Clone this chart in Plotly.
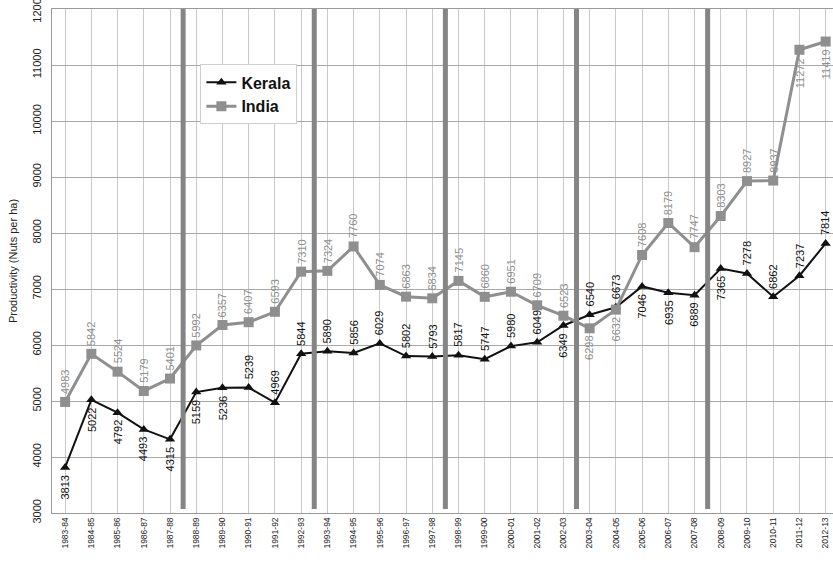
import plotly.graph_objects as go

years = ["1983-84", "1984-85", "1985-86", "1986-87", "1987-88", "1988-89", "1989-90",
         "1990-91", "1991-92", "1992-93", "1993-94", "1994-95", "1995-96", "1996-97",
         "1997-98", "1998-99", "1999-00", "2000-01", "2001-02", "2002-03", "2003-04",
         "2004-05", "2005-06", "2006-07", "2007-08", "2008-09", "2009-10", "2010-11",
         "2011-12", "2012-13"]

kerala = [3813, 5022, 4792, 4493, 4315, 5159, 5236, 5239, 4969, 5844, 5890, 5856, 6029,
          5802, 5793, 5817, 5747, 5980, 6049, 6349, 6540, 6673, 7046, 6935, 6889, 7365,
          7278, 6862, 7237, 7814]

india = [4983, 5842, 5524, 5179, 5401, 5992, 6357, 6407, 6593, 7310, 7324, 7760, 7074,
         6863, 6834, 7145, 6860, 6951, 6709, 6523, 6298, 6632, 7608, 8179, 7747, 8303,
         8927, 8937, 11272, 11419]

# period boundaries (between these category indices)
period_breaks = [4.5, 9.5, 14.5, 19.5, 24.5]

# which side of the point each value label sits on (+1 above, -1 below)
kerala_side = [-1, -1, -1, -1, -1, -1, -1, 1, 1, 1, 1, 1, 1, 1, 1, 1, 1, 1, 1, -1,
               1, 1, -1, -1, -1, -1, 1, 1, 1, 1]
india_side = [1] * 20 + [-1, -1] + [1] * 6 + [-1, -1]

KER_COL = "#111111"
IND_COL = "#8f8f8f"
FONT = "Liberation Sans, Arial, sans-serif"

fig = go.Figure()

fig.add_trace(go.Scatter(
    x=years, y=kerala, name="<b>Kerala</b>", mode="lines+markers",
    line=dict(color=KER_COL, width=2),
    marker=dict(symbol="triangle-up", size=9, color=KER_COL),
))
fig.add_trace(go.Scatter(
    x=years, y=india, name="<b>India</b>", mode="lines+markers",
    line=dict(color=IND_COL, width=3),
    marker=dict(symbol="square", size=10, color=IND_COL),
))

# period dividers
for b in period_breaks:
    fig.add_shape(type="line", xref="x", yref="y", x0=b, x1=b, y0=3070, y1=12000,
                  line=dict(color="#858585", width=5), layer="above")

# rotated value labels
annotations = []
for series, sides, col in ((kerala, kerala_side, KER_COL), (india, india_side, IND_COL)):
    for i, (yr, v) in enumerate(zip(years, series)):
        s = sides[i]
        annotations.append(dict(
            x=i, y=v, xref="x", yref="y", text=str(v), showarrow=False,
            textangle=-90, font=dict(family=FONT, size=11, color=col),
            yanchor="bottom" if s > 0 else "top", yshift=6 * s, xanchor="center",
        ))

fig.update_layout(
    width=833, height=564,
    margin=dict(l=52, r=0, t=9, b=51),
    paper_bgcolor="white", plot_bgcolor="white",
    font=dict(family=FONT, color="#222222"),
    showlegend=True,
    legend=dict(
        x=0.19, y=0.89, xanchor="left", yanchor="top",
        bgcolor="white", bordercolor="#cfcfcf", borderwidth=1,
        font=dict(family=FONT, size=16, color="#111111"),
        tracegroupgap=0, itemwidth=30,
    ),
    annotations=annotations,
)

fig.update_xaxes(
    type="category", range=[-0.5, 29.28], automargin=False,
    showgrid=True, gridcolor="#c9c9c9", gridwidth=1,
    tickangle=-90, tickfont=dict(family=FONT, size=8.5, color="#222222"),
    ticks="", showline=True, linecolor="#9a9a9a", linewidth=1, mirror=True,
)
fig.update_yaxes(
    range=[3000, 12000], dtick=1000, tickformat="d", automargin=False,
    ticklabeloverflow="allow", ticklabelstandoff=6,
    showgrid=True, gridcolor="#a8a8a8", gridwidth=1,
    tickangle=-90, tickfont=dict(family=FONT, size=11, color="#222222"),
    ticks="", showline=True, linecolor="#9a9a9a", linewidth=1, mirror=True,
    zeroline=False,
    title=dict(text="Productivity (Nuts per ha)", standoff=10,
               font=dict(family=FONT, size=11, color="#222222")),
)

fig.write_html("out.html")
